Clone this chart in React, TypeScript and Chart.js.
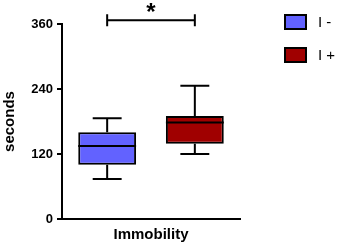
import React, { useEffect, useRef } from "react";
import { Chart, registerables } from "chart.js";

Chart.register(...registerables);

// ---- data ----
const categories = ["Immobility"];
const seriesLabels = ["I -", "I +"];
const seriesColors = ["#6262FF", "#A00000"];
// [min, q1, median, q3, max]
const iMinusStats = [74, 100, 135, 160, 186];
const iPlusStats = [120, 139, 178, 190, 246];
const yTicks = [0, 120, 240, 360];
const yTitle = "seconds";
const sigLabel = "*";
const sigValue = 367;

const FONT = "Arial, 'Liberation Sans', sans-serif";

const boxPlugin = {
  id: "boxWhiskers",
  afterDatasetsDraw(chart: any) {
    const ctx = chart.ctx;
    const y = chart.scales.y;
    ctx.save();
    ctx.strokeStyle = "#000";
    ctx.lineWidth = 2;
    chart.data.datasets.forEach((ds: any, i: number) => {
      const meta = chart.getDatasetMeta(i);
      meta.data.forEach((bar: any) => {
        const s = ds.stats;
        const { x, width } = bar.getProps(["x", "width"], true);
        const pMin = y.getPixelForValue(s[0]);
        const pQ1 = y.getPixelForValue(s[1]);
        const pMed = y.getPixelForValue(s[2]);
        const pQ3 = y.getPixelForValue(s[3]);
        const pMax = y.getPixelForValue(s[4]);
        const cap = width / 4;
        ctx.beginPath();
        // median
        ctx.moveTo(x - width / 2, pMed);
        ctx.lineTo(x + width / 2, pMed);
        // upper whisker
        ctx.moveTo(x, pQ3);
        ctx.lineTo(x, pMax);
        ctx.moveTo(x - cap, pMax);
        ctx.lineTo(x + cap, pMax);
        // lower whisker
        ctx.moveTo(x, pQ1);
        ctx.lineTo(x, pMin);
        ctx.moveTo(x - cap, pMin);
        ctx.lineTo(x + cap, pMin);
        ctx.stroke();
      });
    });
    ctx.restore();
  },
  afterDraw(chart: any) {
    const ctx = chart.ctx;
    const y = chart.scales.y;
    const b0 = chart.getDatasetMeta(0).data[0];
    const b1 = chart.getDatasetMeta(1).data[0];
    const x0 = b0.x;
    const x1 = b1.x;
    const py = y.getPixelForValue(sigValue);
    ctx.save();
    ctx.strokeStyle = "#000";
    ctx.lineWidth = 2;
    ctx.beginPath();
    ctx.moveTo(x0, py);
    ctx.lineTo(x1, py);
    ctx.moveTo(x0, py - 6);
    ctx.lineTo(x0, py + 6);
    ctx.moveTo(x1, py - 6);
    ctx.lineTo(x1, py + 6);
    ctx.stroke();
    ctx.fillStyle = "#000";
    ctx.font = `bold 24px ${FONT}`;
    ctx.textAlign = "center";
    ctx.textBaseline = "alphabetic";
    ctx.fillText(sigLabel, (x0 + x1) / 2, py + 0);

    // legend
    const lx = chart.chartArea.right + 45;
    chart.data.datasets.forEach((ds: any, i: number) => {
      const top = 15 + i * 33;
      ctx.fillStyle = ds.backgroundColor;
      ctx.fillRect(lx, top, 21, 14);
      ctx.lineWidth = 2;
      ctx.strokeStyle = "#000";
      ctx.strokeRect(lx, top, 21, 14);
      ctx.fillStyle = "#000";
      ctx.font = `15px ${FONT}`;
      ctx.textAlign = "left";
      ctx.textBaseline = "middle";
      ctx.fillText(ds.label, lx + 33, top + 7.5);
    });
    ctx.restore();
  },
};

export default function App() {
  const ref = useRef<HTMLCanvasElement | null>(null);
  useEffect(() => {
    document.body.style.margin = "0";
    if (!ref.current) return;
    Chart.defaults.font.family = FONT;
    const statsList = [iMinusStats, iPlusStats];
    const chart = new Chart(ref.current, {
      type: "bar",
      data: {
        labels: categories,
        datasets: statsList.map((s, i) => ({
          label: seriesLabels[i],
          data: [[s[1], s[3]]],
          stats: s,
          backgroundColor: seriesColors[i],
          borderColor: "#000",
          borderWidth: 2,
          borderSkipped: false,
          categoryPercentage: 0.985,
          barPercentage: 0.66,
        })) as any,
      },
      options: {
        animation: false,
        responsive: false,
        devicePixelRatio: 1,
        layout: { padding: { top: 24, right: 100, left: 0, bottom: 0 } },
        plugins: { legend: { display: false }, tooltip: { enabled: false } },
        scales: {
          x: {
            type: "category",
            grid: { display: false, drawTicks: false },
            border: { display: true, color: "#000", width: 2 },
            ticks: { color: "#000", font: { size: 15, weight: "bold" }, padding: 7 },
            afterFit: (s: any) => { s.height = 29; },
          },
          y: {
            type: "linear",
            min: 0,
            max: 360,
            afterBuildTicks: (s: any) => { s.ticks = yTicks.map((v) => ({ value: v })); },
            grid: { display: true, drawOnChartArea: false, drawTicks: true, tickLength: 5, color: "#000", lineWidth: 2 },
            border: { display: true, color: "#000", width: 2 },
            ticks: { color: "#000", font: { size: 13, weight: "bold" }, padding: 4 },
            title: { display: true, text: yTitle, color: "#000", font: { size: 15, weight: "bold" }, padding: { top: 1, bottom: 0 } },
            afterFit: (s: any) => { s.width = 62; },
          },
        },
      } as any,
      plugins: [boxPlugin],
    });
    return () => chart.destroy();
  }, []);
  return <canvas ref={ref} width={340} height={248} style={{ display: "block" }} />;
}
